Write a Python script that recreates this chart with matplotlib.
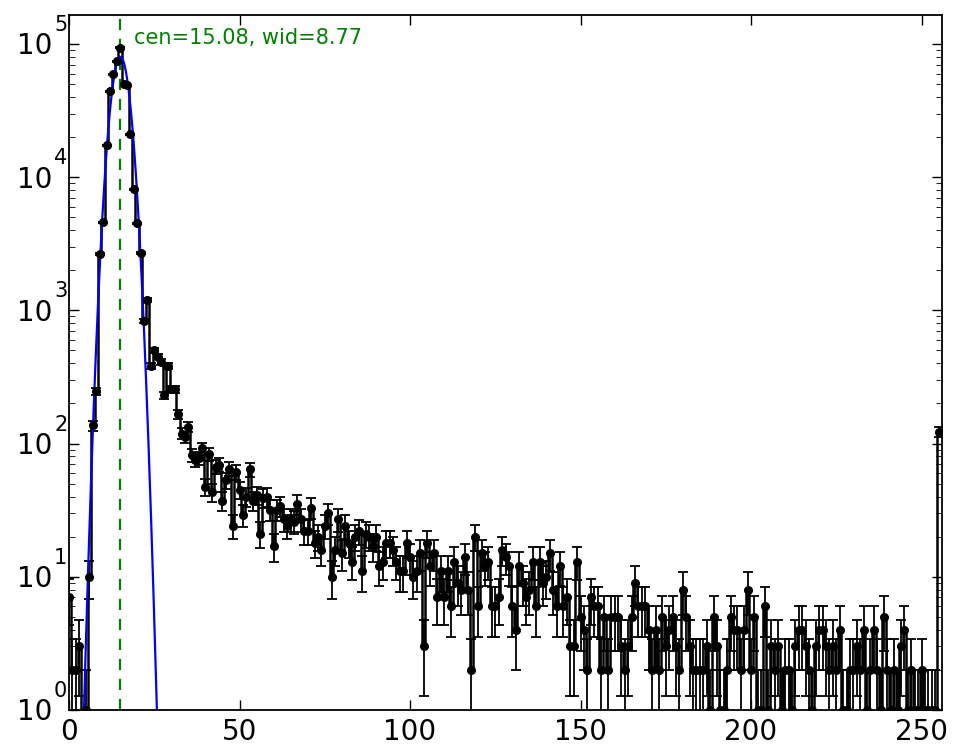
import numpy as np
import matplotlib.pyplot as plt

# counts per channel (channels 0..255)
counts = [7, 2, 2, 3, 0, 1, 10, 137, 247, 2640,
          4570, 17300, 44000, 59000, 74000, 94000, 50000, 49000, 21000, 8100,
          4500, 2700, 830, 1200, 385, 500, 450, 410, 230, 385,
          256, 256,
          166, 119, 112, 134, 82, 75, 78, 92, 47, 83,
          43, 67, 69, 37, 53, 65, 24, 61, 45, 29,
          40, 64, 37, 41, 21, 39, 40, 32, 17,
          32,
          34, 27, 24, 27, 26, 35, 27, 22, 22, 33,
          18, 20, 16, 24, 30, 10, 16, 27, 15, 24,
          18, 13, 20, 22, 11, 21, 20,
          17,
          20, 12, 13, 18, 18, 16, 13, 11, 11, 18,
          14, 10, 11, 15, 3, 18, 12, 15, 7, 11,
          7, 11, 6, 13, 9, 8, 14, 8, 2,
          20, 6, 15, 12, 13, 6, 6, 7, 16, 14,
          12, 6, 4, 12, 9, 7, 8, 13, 6, 13,
          9, 10, 15, 8, 6, 12, 6, 7, 3, 3,
          13, 5, 4, 2, 7, 6, 6, 2, 5, 2,
          5, 5, 5, 3, 2, 3, 5, 9, 6, 6,
          6, 4, 2, 4, 2, 5, 3, 4, 5, 3,
          2, 8, 5, 3, 2, 2, 2,
          2, 3, 1, 5, 3, 1, 1, 2, 5, 4,
          4, 2, 4, 8, 2, 5, 1, 1, 6, 1,
          3, 2, 3, 1, 2, 2, 1, 3, 4, 4,
          3, 2, 1, 3, 4, 4, 3, 2, 3,
          2, 4, 1, 1, 2, 2, 3, 2, 4, 1,
          2, 4, 2, 1, 5, 2, 1, 2, 1, 3,
          4, 1, 2, 1, 1, 2, 1, 1, 1, 1,
          123]

# gaussian fit parameters
cen = 15.08
wid = 8.77
amp = 8.0e4
sig = 2.25

xticks = [0, 50, 100, 150, 200, 250]
ydecades = [0, 1, 2, 3, 4, 5]

counts = np.array(counts, dtype=float)
chan = np.arange(len(counts))
errs = np.sqrt(counts)

plt.rcParams['xtick.direction'] = 'in'
plt.rcParams['ytick.direction'] = 'in'
plt.rcParams['xtick.top'] = True
plt.rcParams['ytick.right'] = True

fig = plt.figure(figsize=(9.65, 7.56), dpi=100)
ax = fig.add_axes([69/965, 46/756, 873/965, 695/756])

ax.errorbar(chan, counts, yerr=errs, fmt='o', color='k', ms=5.5,
            capsize=3.5, elinewidth=1.3, capthick=1.3)
ax.plot(chan, counts, 'k-', drawstyle='steps-mid', lw=1.8)

xf = np.linspace(0, 40, 801)
ax.plot(xf, amp*np.exp(-(xf-cen)**2/(2*sig**2)), color='b', lw=1.6)
ax.axvline(cen, color='g', ls='--', lw=1.6, dashes=(5, 4))
ax.text(19, 1.0e5, 'cen=%.2f, wid=%.2f' % (cen, wid), color='g',
        fontsize=15, va='baseline')

ax.set_yscale('log')
ax.set_xlim(0, 256)
ax.set_ylim(1, 1.65e5)
ax.set_xticks(xticks)
ax.set_yticks([10.0**k for k in ydecades])
ax.set_yticklabels([''] * len(ydecades))
ax.tick_params(labelsize=20, width=1, pad=6)
ax.tick_params(which='major', length=7)
ax.tick_params(which='minor', length=4)
for s in ax.spines.values():
    s.set_linewidth(1.3)

# old style log labels: big "10" with the exponent raised off to the right
for k in ydecades:
    ax.annotate('10', xy=(0, 10.0**k), xycoords=('axes fraction', 'data'),
                xytext=(-17, -2.5), textcoords='offset pixels',
                ha='right', va='center', fontsize=20, annotation_clip=False)
    ax.annotate(str(k), xy=(0, 10.0**k), xycoords=('axes fraction', 'data'),
                xytext=(-15, 19), textcoords='offset pixels',
                ha='left', va='center', fontsize=15, annotation_clip=False)

fig.savefig('out.png', dpi=100, facecolor='white')
